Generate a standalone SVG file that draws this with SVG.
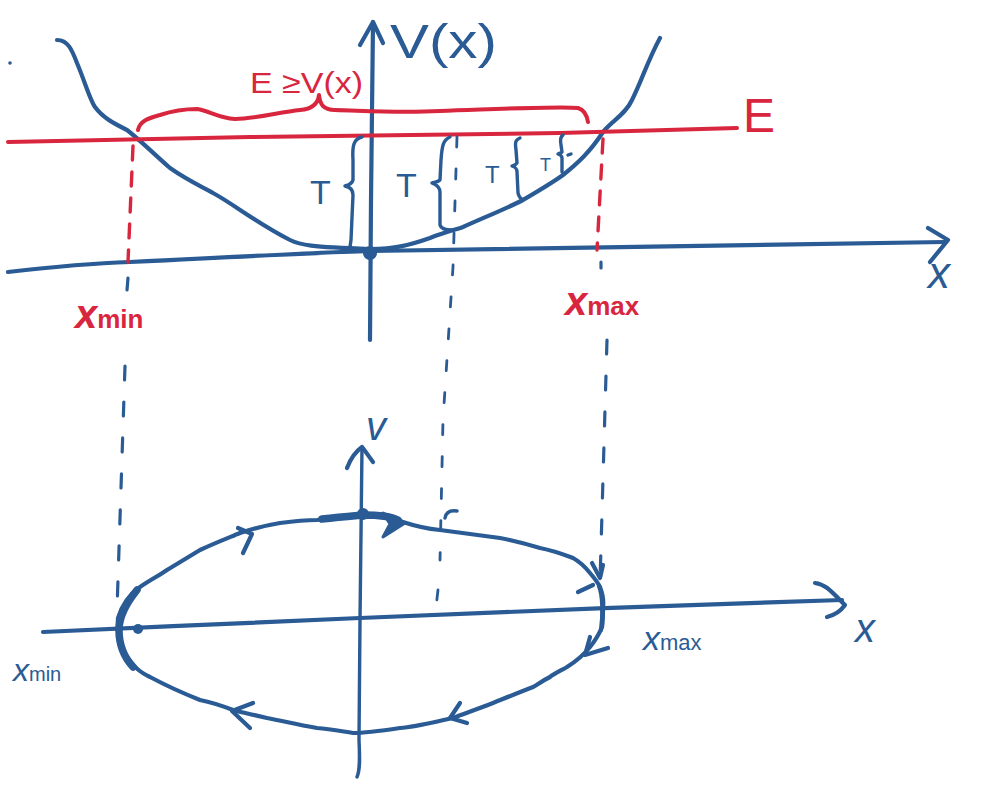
<svg xmlns="http://www.w3.org/2000/svg" width="995" height="793" viewBox="0 0 995 793">
<style>
.b{fill:none;stroke:#2a5b94;stroke-width:4.2;stroke-linecap:round;stroke-linejoin:round}
.bt{fill:none;stroke:#2a5b94;stroke-width:3.4;stroke-linecap:round;stroke-linejoin:round}
.bk{fill:none;stroke:#2a5b94;stroke-width:7.5;stroke-linecap:round;stroke-linejoin:round}
.r{fill:none;stroke:#d9263f;stroke-width:4;stroke-linecap:round;stroke-linejoin:round}
.rd{fill:none;stroke:#d9263f;stroke-width:3.4;stroke-linecap:round;stroke-dasharray:14 12}
.bd{fill:none;stroke:#2a5b94;stroke-width:3.2;stroke-linecap:round;stroke-dasharray:14 22}
.bdd{fill:none;stroke:#2a5b94;stroke-width:2.8;stroke-linecap:round;stroke-dasharray:10 22}
.tb{fill:#2a5b94;font-family:"Liberation Sans",Arial,sans-serif}
.tr{fill:#d9263f;font-family:"Liberation Sans",Arial,sans-serif}
</style>
<rect width="995" height="793" fill="#ffffff"/>

<g id="connectors">
  <!-- top plot axes -->
  <path class="b" d="M8,272 C60,266 100,263 130,262 C250,256 330,252 370,251 C500,249 700,246 945,242"/>
  <path class="b" d="M928,228 L948,240 L930,262"/>
  <path class="b" d="M370,340 L371,200 L373,22"/>
  <path class="b" d="M360,45 L373,22 L383,43"/>
  <!-- potential curve -->
  <path class="b" d="M57,40 C68,40 72,50 77,63 C85,82 90,100 95,107 C103,118 115,124 127,130 C140,140 155,155 170,168 C190,182 205,188 213,193 C235,205 255,222 290,240 C300,245 310,247 370,249 C395,249 410,245 430,238 C445,232 455,230 463,227 C490,215 505,209 523,200 C540,190 552,183 563,175 C578,163 590,152 603,132 C613,120 625,115 632,100 C642,80 648,60 660,38"/>
  <circle cx="370" cy="253" r="7" fill="#2a5b94"/>
  <circle cx="10" cy="63" r="1.8" fill="#2a5b94"/>
  <!-- energy line -->
  <path class="r" d="M8,142 L250,137 L560,133 L737,128"/>
  <!-- red brace -->
  <path class="r" d="M138,130 C140,120 150,118 160,115 C175,110 190,109 197,109 C210,111 218,118 235,119 C255,119 280,112 300,110 C312,109 318,104 319,95 C320,104 323,110 335,110 C370,111 400,113 440,111 C500,109 560,106 578,108 C585,110 587,116 588,122"/>
  <!-- red dashed -->
  <path class="rd" d="M133,146 L128,262"/>
  <path class="rd" d="M603,139 L597,250"/>
  <!-- blue dashed projections -->
  <path class="bd" d="M128,278 L127,290"/>
  <path class="bd" d="M125,366 L117,610"/>
  <path class="bd" d="M601,262 L601,268"/>
  <path class="bd" d="M607,340 L600,582"/>
  <path class="bdd" d="M457,137 L453,267 L443,420 L440,560"/>
  <path class="bdd" d="M438,590 L435,616"/>
  <path class="bt" d="M445,518 C446,512 450,510 457,511"/>
  <!-- T braces -->
  <path class="bt" d="M362,137 C354,139 352,145 353,160 L353,180 C352,184 349,185 345,186 C350,187 353,190 353,195 L351,240 L350,247"/>
  <path class="bt" d="M450,137 C443,140 442,146 441,160 L440,180 C438,182 436,182 432,183 C437,185 440,187 440,192 L440,225 C441,229 446,230 452,230"/>
  <path class="bt" d="M520,138 C515,140 515,143 516,150 L517,163 C516,165 514,165 512,166 C515,167 517,168 517,172 L518,193 C519,197 521,199 523,200"/>
  <path class="bt" d="M563,135 C560,137 560,140 561,145 L562,152 C561,153 560,153 558,154 C561,155 562,156 562,158 L562,172"/>
  <path class="bt" d="M568,155 L571,154"/>

  <!-- bottom plot axes -->
  <path class="b" d="M43,632 C150,627 250,623 360,618 C500,612 700,604 842,600"/>
  <path class="b" d="M815,583 C825,584 830,590 845,605 C840,612 835,615 827,617"/>
  <path class="bt" d="M362,447 L360,620 L359,740 C360,760 360,770 357,777"/>
  <path class="b" d="M347,468 C350,460 355,452 362,447 C366,452 370,458 373,462"/>
  <!-- phase ellipse -->
  <path class="b" d="M118,618 C122,605 130,594 140,587 C150,580 160,575 167,570 C180,562 190,556 200,550 C215,543 228,538 240,533 C255,528 268,525 280,523 C295,521 305,520 317,520 C340,517 352,515 363,515 C380,515 392,516 403,522 C418,527 430,529 440,530 C470,534 485,536 500,538 C520,542 530,545 540,548 C555,551 565,555 573,558 C582,563 586,568 590,573 C596,580 599,585 600,587 C603,595 604,600 603,607 C603,615 603,622 602,627 C598,637 594,642 590,647 C582,657 575,662 567,667 C558,672 552,675 550,677 C540,682 537,685 533,687 C515,694 503,699 493,703 C475,710 463,714 453,718 C430,723 415,727 400,728 C380,731 365,733 353,733 C340,731 330,729 317,728 C295,724 283,721 267,718 C250,714 240,712 233,710 C220,705 210,702 200,700 C180,692 165,685 150,677 C140,672 135,669 122,650 C118,640 117,632 118,618"/>
  <!-- thick segments -->
  <path class="bk" d="M137,590 C125,605 119,618 119,630 C119,645 123,656 133,667"/>
  <path class="bk" d="M322,519 C340,517 352,516 363,515 C378,515 390,516 398,520"/>
  <path class="b" stroke-width="6.5" d="M599,586 C603,596 603,615 601,630"/>
  <circle cx="363" cy="514" r="6" fill="#2a5b94"/>
  <circle cx="138" cy="629" r="5" fill="#2a5b94"/>
  <!-- direction arrows -->
  <path class="b" d="M238,528 L252,534 L243,553"/>
  <path d="M383,513 L405,523 L383,537 L390,524 Z" fill="#2a5b94" stroke="#2a5b94" stroke-width="3" stroke-linejoin="round"/>
  <path class="b" d="M592,563 L600,578 L603,565"/>
  <path class="b" d="M578,592 L593,585"/>
  <path class="b" d="M590,637 L585,655 L608,648"/>
  <path class="b" d="M460,703 L450,718 L467,723"/>
  <path class="b" d="M253,703 L232,711 L250,728"/>
</g>

<g id="label-Vx"><text class="tb" x="390" y="58" font-size="48" textLength="107" lengthAdjust="spacingAndGlyphs">V(x)</text></g>
<g id="label-EgeV"><text class="tr" x="250" y="93" font-size="30" textLength="113" lengthAdjust="spacingAndGlyphs">E ≥V(x)</text></g>
<g id="label-E"><text class="tr" x="743" y="132" font-size="48">E</text></g>
<g id="label-xaxis-top"><text class="tb" x="928" y="288" font-size="44" font-style="italic">x</text></g>
<g id="label-T1"><text class="tb" x="310" y="204" font-size="34">T</text></g>
<g id="label-T2"><text class="tb" x="396" y="197" font-size="34">T</text></g>
<g id="label-T3"><text class="tb" x="485" y="183" font-size="24">T</text></g>
<g id="label-T4"><text class="tb" x="540" y="171" font-size="18">T</text></g>
<g id="label-xmin-top"><text class="tr" x="75" y="328" font-size="40" font-style="italic" font-weight="bold">x<tspan font-size="26" font-style="normal">min</tspan></text></g>
<g id="label-xmax-top"><text class="tr" x="565" y="315" font-size="40" font-style="italic" font-weight="bold">x<tspan font-size="26" font-style="normal">max</tspan></text></g>
<g id="label-v"><text class="tb" x="366" y="440" font-size="40" font-style="italic">v</text></g>
<g id="label-xaxis-bottom"><text class="tb" x="855" y="642" font-size="40" font-style="italic">x</text></g>
<g id="label-xmax-bottom"><text class="tb" x="643" y="650" font-size="34" font-style="italic">x<tspan font-size="22" font-style="normal">max</tspan></text></g>
<g id="label-xmin-bottom"><text class="tb" x="13" y="681" font-size="32" font-style="italic">x<tspan font-size="20" font-style="normal">min</tspan></text></g>
</svg>
